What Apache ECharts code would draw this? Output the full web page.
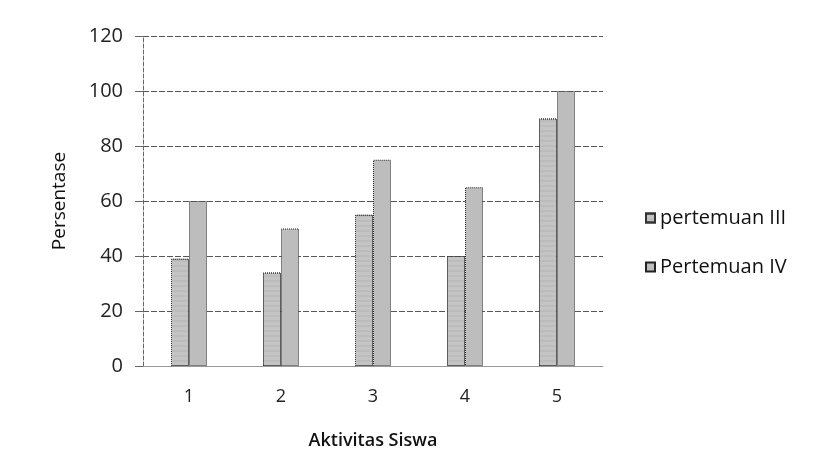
<!DOCTYPE html>
<html><head><meta charset="utf-8">
<script src="https://cdn.jsdelivr.net/npm/echarts@6/dist/echarts.min.js"></script>
<style>html,body{margin:0;padding:0;background:#fff}#c{width:813px;height:474px}</style>
</head><body><div id="c"></div>
<script>
const categories = ['1', '2', '3', '4', '5'];
const pertemuanIII = [39, 34, 55, 40, 90];
const pertemuanIV = [60, 50, 75, 65, 100];
const seriesNames = ['pertemuan III', 'Pertemuan IV'];
const yTicks = { min: 0, max: 120, interval: 20 };

const chart = echarts.init(document.getElementById('c'));
const font = '"Open Sans", "Noto Sans", sans-serif';
chart.setOption({
  animation: false,
  backgroundColor: '#fff',
  textStyle: { fontFamily: font },
  grid: { left: 143, right: 210, top: 36, bottom: 108 },
  legend: {
    orient: 'vertical', left: 640, top: 203, itemGap: 29,
    itemWidth: 9, itemHeight: 9, icon: 'rect',
    textStyle: { fontSize: 20, color: '#111', fontFamily: font },
    data: seriesNames
  },
  xAxis: {
    type: 'category', data: categories,
    name: 'Aktivitas Siswa', nameLocation: 'middle', nameGap: 66,
    nameTextStyle: { fontSize: 18, fontWeight: 600, color: '#111', fontFamily: font },
    axisLine: { lineStyle: { color: '#999' } },
    axisTick: { show: false },
    axisLabel: { fontSize: 18, color: '#222', margin: 22, fontFamily: font }
  },
  yAxis: {
    type: 'value', min: yTicks.min, max: yTicks.max, interval: yTicks.interval,
    name: 'Persentase', nameLocation: 'middle', nameGap: 74, nameRotate: 90,
    nameTextStyle: { fontSize: 19, color: '#111', fontFamily: font },
    axisLine: { show: true, lineStyle: { color: '#666', type: 'dashed' } },
    axisTick: { show: true, length: 8, lineStyle: { color: '#666' } },
    axisLabel: { fontSize: 20, color: '#222', margin: 20, fontFamily: font },
    splitLine: { lineStyle: { color: '#555', type: [6, 2], width: 1 } }
  },
  series: [
    {
      name: seriesNames[0], type: 'bar', data: pertemuanIII,
      barWidth: 18, barGap: '0%',
      itemStyle: {
        color: '#c4c4c4', borderColor: '#333', borderWidth: 1, borderType: 'dotted',
        decal: { symbol: 'rect', symbolSize: 0.5, color: 'rgba(0,0,0,0.18)', dashArrayX: [1, 0], dashArrayY: [2, 3], rotation: 0 }
      }
    },
    {
      name: seriesNames[1], type: 'bar', data: pertemuanIV,
      barWidth: 18,
      itemStyle: {
        color: '#bdbdbd', borderColor: '#222', borderWidth: 1, borderType: 'dotted'
      }
    }
  ]
});
</script></body></html>
